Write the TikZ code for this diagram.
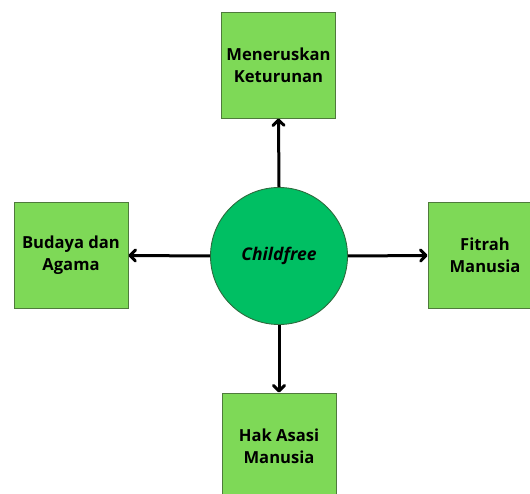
\documentclass[tikz,border=0pt]{standalone}
\usepackage{fontspec}
\setmainfont{Open Sans}
\usetikzlibrary{arrows.meta}
\definecolor{boxgreen}{HTML}{7ED957}
\definecolor{boxline}{HTML}{4F7A3C}
\definecolor{circgreen}{HTML}{00BF63}
\definecolor{circline}{HTML}{2E6B3E}
\begin{document}
\begin{tikzpicture}[x=1pt,y=-1pt,
  box/.style={draw=boxline,line width=0.9pt,fill=boxgreen,minimum width=114pt,minimum height=106pt,inner sep=0pt,align=center,font=\bfseries\fontsize{16.6}{22}\selectfont},
  conn/.style={line width=3pt,-{Straight Barb[length=5.5pt,width=11pt,line cap=round,line join=round]}}]
\useasboundingbox (0,0) rectangle (530,494);
\node[draw=circline,line width=0.9pt,fill=circgreen,circle,minimum size=137pt,inner sep=0pt,font=\bfseries\itshape\fontsize{17.5}{21}\selectfont] (c) at (279,256) {Childfree};
\node[box] (t) at (278.5,65) {Meneruskan\\Keturunan};
\node[box] (l) at (71,255.5) {Budaya dan\\Agama};
\node[box] (r) at (485,255.5) {Fitrah\\Manusia};
\node[box] (b) at (279,446) {Hak Asasi\\Manusia};
\draw[conn] (c.north) -- (t.south);
\draw[conn] (c.west) -- (l.east);
\draw[conn] (c.east) -- (r.west);
\draw[conn] (c.south) -- (b.north);
\end{tikzpicture}
\end{document}
